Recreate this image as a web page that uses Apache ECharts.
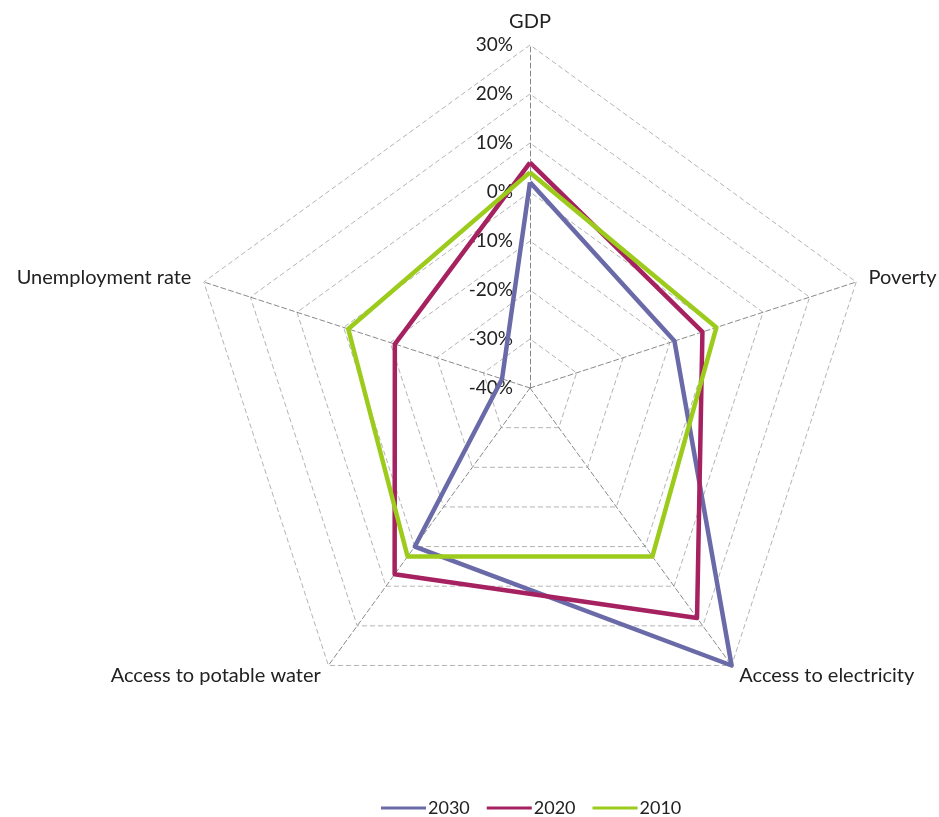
<!DOCTYPE html>
<html>
<head>
<meta charset="utf-8">
<script src="https://cdn.jsdelivr.net/npm/echarts@6/dist/echarts.min.js"></script>
<style>
  html, body { margin: 0; padding: 0; background: #fff; }
  #chart { width: 939px; height: 817px; }
</style>
</head>
<body>
<div id="chart"></div>
<script>
// axes, counterclockwise from the top (ECharts radar order)
var indicators = ['GDP', 'Unemployment rate', 'Access to potable water', 'Access to electricity', 'Poverty'];
var years = ['2030', '2020', '2010'];
var v2030 = [2, -34, 0, 30, -9];
var v2020 = [6, -11, 7, 18, -3];
var v2010 = [4, -1, 2.5, 2.5, 0];
var axisMin = -40, axisMax = 30;

var colors = { '2030': '#6a6aa8', '2020': '#a5215f', '2010': '#9ccb1b' };

(function () {
    var el = document.getElementById('chart');
    var chart = echarts.init(el, null, { renderer: 'canvas' });
    var font = 'Lato, "Open Sans", sans-serif';
    var values = { '2030': v2030, '2020': v2020, '2010': v2010 };

    chart.setOption({
        backgroundColor: '#fff',
        animation: false,
        textStyle: { fontFamily: font },
        legend: {
            top: 794,
            left: 376,
            data: years,
            icon: 'rect',
            itemWidth: 45,
            itemHeight: 3,
            itemGap: 17,
            textStyle: { fontSize: 18, color: '#222', fontFamily: font, padding: [0, 0, 0, -3] }
        },
        radar: {
            center: [530, 388],
            radius: 343,
            startAngle: 90,
            shape: 'polygon',
            splitNumber: 7,
            nameGap: 13,
            axisName: { color: '#222', fontSize: 20, fontFamily: font },
            indicator: indicators.map(function (name, i) {
                var ind = { name: name, min: axisMin, max: axisMax };
                if (i === 0) {
                    ind.axisLabel = {
                        show: true,
                        fontSize: 19,
                        margin: 17,
                        color: '#222',
                        fontFamily: font,
                        formatter: function (v) { return v + '%'; }
                    };
                }
                return ind;
            }),
            axisLine: { lineStyle: { color: '#8a8a8a', type: [5, 3], width: 1 } },
            axisTick: { show: false },
            axisLabel: { show: false },
            splitLine: { lineStyle: { color: '#b4b4b4', type: [5, 3], width: 1 } },
            splitArea: { show: false }
        },
        series: [{
            type: 'radar',
            symbol: 'none',
            data: years.map(function (y) {
                return {
                    name: y,
                    value: values[y],
                    lineStyle: { color: colors[y], width: 4.5 },
                    itemStyle: { color: colors[y] }
                };
            })
        }]
    });
})();
</script>
</body>
</html>
